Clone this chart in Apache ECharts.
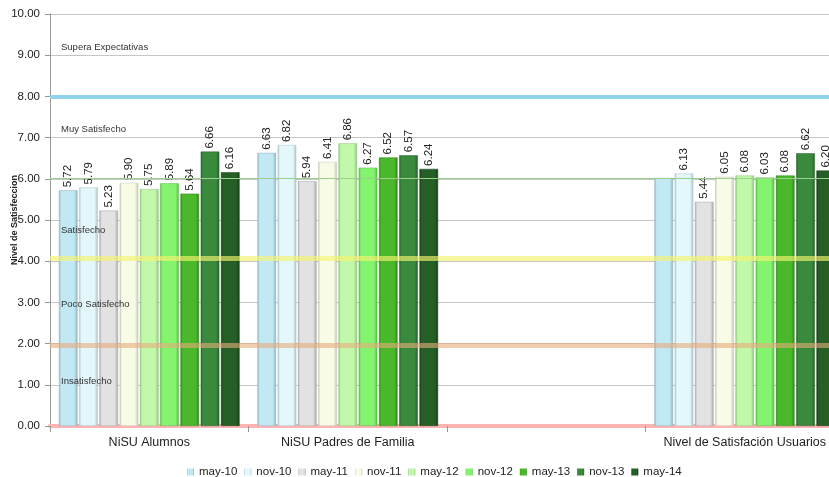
<!DOCTYPE html>
<html>
<head>
<meta charset="utf-8">
<script src="https://cdn.jsdelivr.net/npm/echarts@6/dist/echarts.min.js"></script>
<style>
  html, body { margin: 0; padding: 0; background: #fff; }
  #chart { width: 829px; height: 477px; }
</style>
</head>
<body>
<div id="chart"></div>
<script>
// categories (the third one is an empty slot in the original)
var categories = ['NiSU Alumnos', 'NiSU Padres de Familia', '', 'Nivel de Satisfación Usuarios'];
var periods = ['may-10', 'nov-10', 'may-11', 'nov-11', 'may-12', 'nov-12', 'may-13', 'nov-13', 'may-14'];

var may10 = [5.72, 6.63, '-', 6.02];
var nov10 = [5.79, 6.82, '-', 6.13];
var may11 = [5.23, 5.94, '-', 5.44];
var nov11 = [5.90, 6.41, '-', 6.05];
var may12 = [5.75, 6.86, '-', 6.08];
var nov12 = [5.89, 6.27, '-', 6.03];
var may13 = [5.64, 6.52, '-', 6.08];
var nov13 = [6.66, 6.57, '-', 6.62];
var may14 = [6.16, 6.24, '-', 6.20];
var values = [may10, nov10, may11, nov11, may12, nov12, may13, nov13, may14];

// label not shown in the original for may-10 / last group
var hiddenLabels = [[0, 3]];

var colors = ['#c2e8f3', '#e4f8fc', '#e2e2e2', '#f8fbe6', '#c2f8aa', '#84f46e', '#4ab82a', '#398a3c', '#255f26'];
var edges = ['#8fb4bf', '#a9c4c8', '#a8a8a8', '#c4c8b4', '#8ec47e', '#5cb84c', '#33881c', '#27622a', '#173d18'];

// horizontal level lines
var levelLines = [
  { value: 8.0, color: '#92d3ec', width: 4, over: false },
  { value: 6.01, color: '#9bd08f', width: 1, over: false },
  { value: 4.07, color: 'rgba(244,244,110,0.65)', width: 5, over: true },
  { value: 1.95, color: 'rgba(232,172,124,0.6)', width: 5, over: true }
];
// level names, value = where the text sits
var levelNames = ['Supera Expectativas', 'Muy Satisfecho', 'Satisfecho', 'Poco Satisfecho', 'Insatisfecho'];
var levelNameAt = [9.06, 7.08, 4.63, 2.84, 0.97];

var chart = echarts.init(document.getElementById('chart'));

var series = periods.map(function (p, i) {
  return {
    name: p,
    type: 'bar',
    z: 2,
    barGap: '9%',
    barCategoryGap: '9%',
    data: values[i].map(function (v, j) {
      var hide = hiddenLabels.some(function (h) { return h[0] === i && h[1] === j; });
      return hide ? { value: v, label: { show: false } } : v;
    }),
    itemStyle: {
      color: {
        type: 'linear', x: 0, y: 0, x2: 1, y2: 0,
        colorStops: [
          { offset: 0, color: edges[i] },
          { offset: 0.12, color: colors[i] },
          { offset: 0.82, color: colors[i] },
          { offset: 1, color: edges[i] }
        ]
      },
      borderColor: edges[i],
      borderWidth: 0.5
    },
    label: {
      show: true,
      position: 'top',
      rotate: 90,
      align: 'left',
      verticalAlign: 'middle',
      distance: 3,
      fontFamily: 'Liberation Sans',
      fontSize: 11.5,
      color: '#222',
      formatter: function (d) { return d.value.toFixed(2); }
    }
  };
});

// lines drawn behind the bars
series.push({
  name: 'back',
  type: 'line',
  data: [],
  z: 1,
  silent: true,
  markLine: {
    symbol: 'none',
    silent: true,
    animation: false,
    label: { show: false },
    data: levelLines.filter(function (l) { return !l.over; }).map(function (l) {
      return { yAxis: l.value, lineStyle: { color: l.color, width: l.width, type: 'solid' } };
    }).concat(levelNames.map(function (n, k) {
      return {
        yAxis: levelNameAt[k],
        lineStyle: { color: 'rgba(0,0,0,0)', width: 0 },
        label: {
          show: true, position: 'insideStartTop', distance: [11, 0],
          formatter: n, fontFamily: 'Liberation Sans', fontSize: 9.5, color: '#333'
        }
      };
    }))
  }
});
// lines drawn on top of the bars
series.push({
  name: 'front',
  type: 'line',
  data: [],
  z: 5,
  silent: true,
  markLine: {
    symbol: 'none',
    silent: true,
    animation: false,
    label: { show: false },
    data: levelLines.filter(function (l) { return l.over; }).map(function (l) {
      return { yAxis: l.value, lineStyle: { color: l.color, width: l.width, type: 'solid' } };
    })
  }
});

chart.setOption({
  animation: false,
  grid: { left: 50, top: 14, width: 794, height: 412, outerBoundsMode: 'none', containLabel: false },
  legend: {
    data: periods,
    top: 461,
    left: 182,
    itemWidth: 7,
    itemHeight: 7,
    itemGap: 7,
    icon: 'rect',
    itemStyle: { borderWidth: 0 },
    textStyle: { fontFamily: 'Liberation Sans', fontSize: 11.5, color: '#222' }
  },
  xAxis: {
    type: 'category',
    data: categories,
    offset: 4,
    axisLine: { lineStyle: { color: '#ffb4b4', width: 4 } },
    axisTick: { show: true, length: 6, lineStyle: { color: '#999' } },
    axisLabel: { interval: 0, fontFamily: 'Liberation Sans', fontSize: 12.5, color: '#222', margin: 6 }
  },
  yAxis: {
    type: 'value',
    min: 0,
    max: 10,
    interval: 1,
    name: 'Nivel de Satisfeccion',
    nameLocation: 'middle',
    nameGap: 31,
    nameMoveOverlap: false,
    nameTextStyle: { fontFamily: 'Liberation Sans', fontSize: 9, fontWeight: 'bold', color: '#222' },
    axisLine: { show: true, lineStyle: { color: '#999' } },
    axisTick: { show: true, length: 5, lineStyle: { color: '#999' } },
    axisLabel: {
      fontFamily: 'Liberation Sans', fontSize: 11.5, color: '#222', margin: 10,
      formatter: function (v) { return v.toFixed(2); }
    },
    splitLine: { lineStyle: { color: '#c6c6c6', width: 1.2 } }
  },
  series: series
});
</script>
</body>
</html>
